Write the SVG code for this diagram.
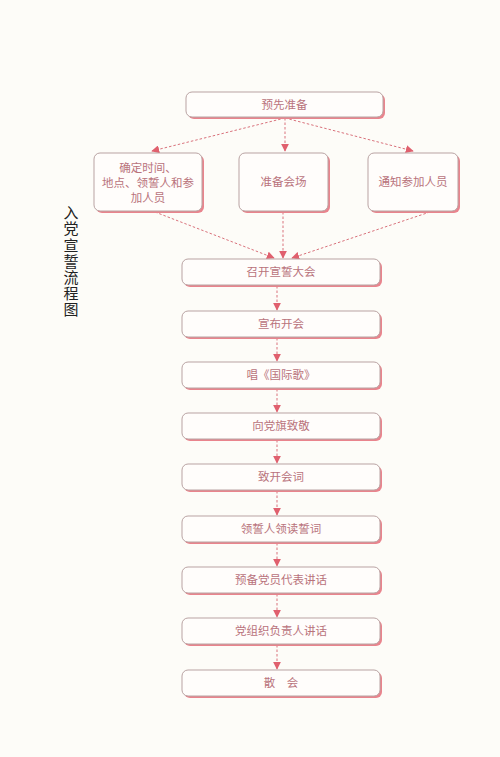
<svg xmlns="http://www.w3.org/2000/svg" width="500" height="757" viewBox="0 0 500 757">
<defs>
<style>
.sh{fill:#e9848d;stroke:none}
.bx{fill:#fffdfb;stroke:#b9a3a3;stroke-width:1}
.t{font-family:"Noto Sans CJK SC",sans-serif;font-size:11.5px;fill:#b9737b;text-anchor:middle}
.title{font-family:"Noto Sans CJK SC",sans-serif;font-size:15px;fill:#222;writing-mode:vertical-rl;letter-spacing:1.2px}
.c{stroke:#d9727c;stroke-width:1;stroke-dasharray:2.5,2;fill:none}
</style>
<marker id="ah" viewBox="0 0 10 10" refX="9" refY="5" markerWidth="8" markerHeight="8" markerUnits="userSpaceOnUse" orient="auto">
<path d="M0,0 L10,5 L0,10 z" fill="#e0606e"/>
</marker>
</defs>
<rect width="500" height="757" fill="#fdfcf8"/>
<g id="title">
<text class="title" x="71" y="205">入党宣誓流程图</text>
</g>
<g id="connectors">
<path class="c" d="M285,118 L152,151" marker-end="url(#ah)"/>
<path class="c" d="M285,118 L285,151" marker-end="url(#ah)"/>
<path class="c" d="M285,118 L413,151" marker-end="url(#ah)"/>
<path class="c" d="M155,212 L274,258" marker-end="url(#ah)"/>
<path class="c" d="M283,212 L283,258" marker-end="url(#ah)"/>
<path class="c" d="M430,212 L292,258" marker-end="url(#ah)"/>
<path class="c" d="M277,286 L277,310" marker-end="url(#ah)"/>
<path class="c" d="M277,338 L277,361" marker-end="url(#ah)"/>
<path class="c" d="M277,389 L277,412" marker-end="url(#ah)"/>
<path class="c" d="M277,440 L277,463" marker-end="url(#ah)"/>
<path class="c" d="M277,491 L277,515" marker-end="url(#ah)"/>
<path class="c" d="M277,543 L277,566" marker-end="url(#ah)"/>
<path class="c" d="M277,594 L277,617" marker-end="url(#ah)"/>
<path class="c" d="M277,645 L277,669" marker-end="url(#ah)"/>
</g>
<g id="n0"><rect class="sh" x="188" y="94" width="197" height="25" rx="6"/><rect class="bx" x="186" y="92" width="197" height="25" rx="6"/><text class="t" x="284.5" y="108.5">预先准备</text></g>
<g id="n1"><rect class="sh" x="96" y="155" width="108" height="58" rx="6"/><rect class="bx" x="94" y="153" width="108" height="58" rx="6"/><text class="t" x="148" y="172">确定时间、</text><text class="t" x="148" y="187">地点、领誓人和参</text><text class="t" x="148" y="202">加人员</text></g>
<g id="n2"><rect class="sh" x="241" y="155" width="89" height="58" rx="6"/><rect class="bx" x="239" y="153" width="89" height="58" rx="6"/><text class="t" x="283.5" y="186">准备会场</text></g>
<g id="n3"><rect class="sh" x="370" y="155" width="90" height="58" rx="6"/><rect class="bx" x="368" y="153" width="90" height="58" rx="6"/><text class="t" x="413" y="186">通知参加人员</text></g>
<g id="n4"><rect class="sh" x="184" y="261" width="198" height="26" rx="6"/><rect class="bx" x="182" y="259" width="198" height="26" rx="6"/><text class="t" x="281" y="276">召开宣誓大会</text></g>
<g id="n5"><rect class="sh" x="184" y="313" width="198" height="26" rx="6"/><rect class="bx" x="182" y="311" width="198" height="26" rx="6"/><text class="t" x="281" y="328">宣布开会</text></g>
<g id="n6"><rect class="sh" x="184" y="364" width="198" height="26" rx="6"/><rect class="bx" x="182" y="362" width="198" height="26" rx="6"/><text class="t" x="281" y="379">唱《国际歌》</text></g>
<g id="n7"><rect class="sh" x="184" y="415" width="198" height="26" rx="6"/><rect class="bx" x="182" y="413" width="198" height="26" rx="6"/><text class="t" x="281" y="430">向党旗致敬</text></g>
<g id="n8"><rect class="sh" x="184" y="466" width="198" height="26" rx="6"/><rect class="bx" x="182" y="464" width="198" height="26" rx="6"/><text class="t" x="281" y="481">致开会词</text></g>
<g id="n9"><rect class="sh" x="184" y="518" width="198" height="26" rx="6"/><rect class="bx" x="182" y="516" width="198" height="26" rx="6"/><text class="t" x="281" y="533">领誓人领读誓词</text></g>
<g id="n10"><rect class="sh" x="184" y="569" width="198" height="26" rx="6"/><rect class="bx" x="182" y="567" width="198" height="26" rx="6"/><text class="t" x="281" y="584">预备党员代表讲话</text></g>
<g id="n11"><rect class="sh" x="184" y="620" width="198" height="26" rx="6"/><rect class="bx" x="182" y="618" width="198" height="26" rx="6"/><text class="t" x="281" y="635">党组织负责人讲话</text></g>
<g id="n12"><rect class="sh" x="184" y="672" width="198" height="26" rx="6"/><rect class="bx" x="182" y="670" width="198" height="26" rx="6"/><text class="t" x="281" y="687">散　会</text></g>
</svg>
